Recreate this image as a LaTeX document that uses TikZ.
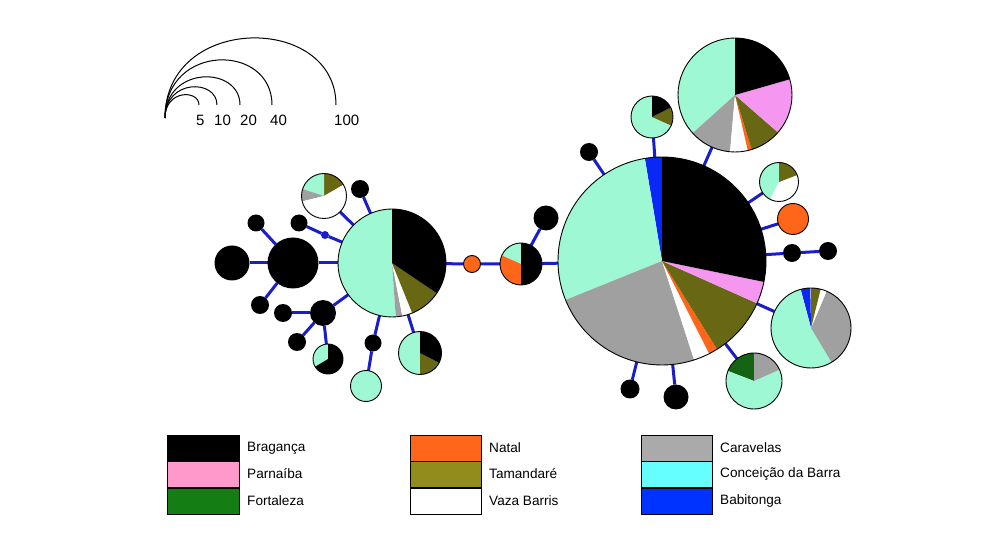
\documentclass[tikz,border=0pt]{standalone}
\usepackage{fontspec}
\setmainfont{Liberation Sans}
\usetikzlibrary{backgrounds}
\definecolor{mint}{RGB}{158,248,212}
\definecolor{polive}{RGB}{104,104,20}
\definecolor{ppink}{RGB}{245,150,240}
\definecolor{pgray}{RGB}{160,160,160}
\definecolor{porange}{RGB}{255,102,25}
\definecolor{pblue}{RGB}{10,40,245}
\definecolor{pgreen}{RGB}{20,100,20}
\definecolor{linkblue}{RGB}{25,30,200}
\definecolor{kpink}{RGB}{255,153,204}
\definecolor{kgreen}{RGB}{20,125,20}
\definecolor{kolive}{RGB}{145,140,28}
\definecolor{kgray}{RGB}{170,170,170}
\definecolor{kcyan}{RGB}{102,255,255}
\definecolor{kblue}{RGB}{0,51,255}
\tikzset{hap/.style={circle,inner sep=0pt,outer sep=0pt},
         blk/.style={hap,fill=black},
         link/.style={draw=linkblue,line width=3pt},
         pieline/.style={draw=black,line width=0.9pt},
         keybox/.style={draw=black,line width=0.8pt},
         keytext/.style={anchor=west,inner sep=0pt,font=\fontsize{13.6}{15}\selectfont},
         scaletext/.style={anchor=west,inner sep=0pt,font=\fontsize{15}{17}\selectfont}}
\newcommand{\hpie}[4]{%
\node [hap,minimum size=2*#3] (#1) at (#2) {};
\foreach \a/\b/\c in {#4} \fill [fill=\c] (#1.center) -- ++(\a:#3) arc [start angle=\a, end angle=\b, radius=#3] -- cycle;
\draw [pieline] (#1.center) circle [radius=#3];}
\newcommand{\hdot}[3]{\node [blk,minimum size=2*#3] (#1) at (#2) {};}
\begin{document}
\begin{tikzpicture}[x=1pt,y=1pt]
\useasboundingbox (0,0) rectangle (999,536);
\draw [line width=1pt] (165,418) .. controls (165,446.5) and (199,446.5) .. (199,431);
\draw [line width=1pt] (165,418) .. controls (165,457.2) and (217,457.2) .. (217,431);
\draw [line width=1pt] (165,418) .. controls (165,470.5) and (240,470.5) .. (240,431);
\draw [line width=1pt] (165,418) .. controls (165,493.2) and (272,493.2) .. (272,431);
\draw [line width=1pt] (165,418) .. controls (165,522.5) and (336,522.5) .. (336,431);
\node [scaletext] (s5) at (196,416) {5};
\node [scaletext] (s10) at (214,416) {10};
\node [scaletext] (s20) at (240,416) {20};
\node [scaletext] (s40) at (270,416) {40};
\node [scaletext] (s100) at (334,416) {100};
\hpie{hA}{392,273}{54}{90/274/mint, 274/281/pgray, 281/292/white, 292/326/polive, 326/450/black}
\hdot{hB}{293,273}{25.5}
\hdot{hC}{232,273}{17.5}
\hdot{hD}{256,313}{8.5}
\hdot{hE}{299,313}{8.5}
\node [hap,fill=linkblue,minimum size=8] (mv) at (325,301) {};
\hdot{hF}{360,347}{9}
\hpie{hG}{324,340}{22.5}{30/90/polive, 90/162/mint, 162/194/pgray, 194/390/white}
\hdot{hH}{260,231}{9}
\hdot{hI}{323,223}{13}
\hdot{hJ}{283,223}{9}
\hdot{hK}{297,194}{9}
\hpie{hL}{328,177}{15}{90/211/mint, 211/450/black}
\hdot{hM}{373,193}{8.5}
\hpie{hN}{366,150}{15.5}{0/360/mint}
\hpie{hO}{420,183}{21.5}{90/270/mint, 270/333/polive, 333/450/black}
\hpie{hP}{472,272}{8.5}{0/360/porange}
\hpie{hQ}{521,272}{21}{90/156/mint, 156/270/porange, 270/450/black}
\hdot{hR}{546,318}{12.5}
\hpie{hS}{662,275}{104}{90/99.5/pblue, 99.5/202/mint, 202/288/pgray, 288/297/white, 297/302/porange, 302/336/polive, 336/348.4/ppink, 348.4/450/black}
\hdot{hT}{589,384}{9}
\hpie{hU}{652,419}{21}{90/336/mint, 336/387/polive, 387/450/black}
\hpie{hV}{735,441}{57}{90/222/mint, 222/265/pgray, 265/283/white, 283/287/porange, 287/319/polive, 319/376/ppink, 376/450/black}
\hpie{hW}{779,354}{19.5}{90/243/mint, 243/381/white, 381/450/polive}
\hpie{hX}{793,317}{15.5}{0/360/porange}
\hdot{hY}{792,283}{9}
\hdot{hZ}{828,285}{9}
\hpie{hAA}{811,208}{40}{91/105/pblue, 105/301/mint, 301/427/pgray, 427/436/white, 436/450/polive}
\hpie{hAB}{754,155}{28}{90/159/pgreen, 159/384/mint, 384/450/pgray}
\hdot{hAC}{630,147}{9.5}
\hdot{hAD}{676,139}{12.5}
\begin{pgfonlayer}{background}
\draw [link] (hC) -- (hB);
\draw [link] (hD) -- (hB);
\draw [link] (hH) -- (hB);
\draw [link] (hB) -- (hA);
\draw [link] (hE) -- (mv) -- (hA);
\draw [link] (hF) -- (hA);
\draw [link] (hG) -- (hA);
\draw [link] (hI) -- (hA);
\draw [link] (hJ) -- (hI);
\draw [link] (hK) -- (hI);
\draw [link] (hL) -- (hI);
\draw [link] (hM) -- (hA);
\draw [link] (hN) -- (hM);
\draw [link] (hO) -- (hA);
\draw [link] (hA) -- (hP) -- (hQ) -- (hS);
\draw [link] (hR) -- (hQ);
\draw [link] (hT) -- (hS);
\draw [link] (hU) -- (hS);
\draw [link] (hV) -- (hS);
\draw [link] (hW) -- (hS);
\draw [link] (hX) -- (hS);
\draw [link] (hS) -- (hY) -- (hZ);
\draw [link] (hAA) -- (hS);
\draw [link] (hAB) -- (hS);
\draw [link] (hAC) -- (hS);
\draw [link] (hAD) -- (hS);
\end{pgfonlayer}
\foreach \x/\col in {167/0, 410/1, 641/2} {
  \ifcase\col
    \foreach \c/\t/\y in {black/Bragança/101, kpink/Parnaíba/75, kgreen/Fortaleza/48}
      {\draw [keybox,fill=\c] (\x,\y) rectangle ++(72,-26.3);
       \node [keytext] (key\t) at (\x+80,\y-13) {\t};}
  \or
    \foreach \c/\t/\y in {porange/Natal/101, kolive/Tamandaré/75, white/Vaza Barris/48}
      {\draw [keybox,fill=\c] (\x,\y) rectangle ++(71,-26.3);
       \node [keytext] (key\t) at (\x+79,\y-13) {\t};}
  \or
    \foreach \c/\t/\y in {kgray/Caravelas/101, kcyan/Conceição da Barra/75, kblue/Babitonga/48}
      {\draw [keybox,fill=\c] (\x,\y) rectangle ++(71,-26.3);
       \node [keytext] (key\t) at (\x+79,\y-13) {\t};}
  \fi
}
\end{tikzpicture}
\end{document}
